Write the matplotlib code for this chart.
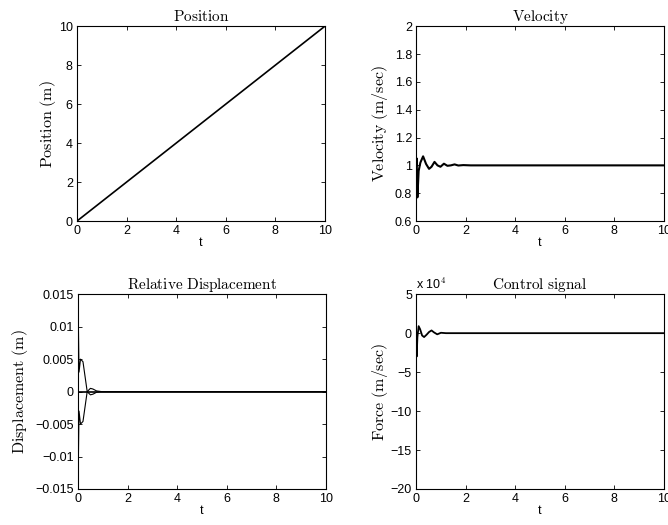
import matplotlib.pyplot as plt
import numpy as np

plt.rcParams['font.family'] = ['Liberation Sans', 'DejaVu Sans']
plt.rcParams['mathtext.fontset'] = 'cm'
plt.rcParams['font.size'] = 9

# position (m) vs time
t_pos = [0, 10]
pos = [0, 10]

# velocity (m/sec)
t_vel = [0, 0.02, 0.05, 0.1, 0.17, 0.28, 0.4, 0.52, 0.62, 0.74, 0.86, 0.98,
         1.12, 1.26, 1.4, 1.55, 1.7, 1.9, 2.2, 10]
vel = [1.0, 1.05, 0.77, 0.96, 1.02, 1.065, 1.01, 0.975, 0.99, 1.025, 1.0, 0.99,
       1.012, 0.997, 1.0, 1.007, 0.999, 1.002, 1.0, 1.0]

# relative displacement (m), two mirrored responses
t_disp = [0, 0.012, 0.04, 0.1, 0.2, 0.37, 0.5, 0.6, 0.75, 0.95, 10]
disp_a = [0, 0.011, 0.003, 0.005, 0.0046, 0.0, -0.0005, -0.0004, -0.0001, 0, 0]
disp_b = [0, -0.011, -0.003, -0.005, -0.0046, 0.0, 0.0005, 0.0004, 0.0001, 0, 0]

# control force, in units of 1e4
t_ctl = [0, 0.02, 0.05, 0.1, 0.16, 0.24, 0.32, 0.42, 0.52, 0.62, 0.72, 0.85,
         1.0, 1.2, 1.5, 10]
ctl = [0, -3.0, -0.5, 0.9, 0.5, -0.3, -0.5, -0.2, 0.15, 0.35, 0.1, -0.15,
       0.05, 0.0, 0.0, 0.0]

fig = plt.figure(figsize=(6.68, 5.25), dpi=100)
W, H = 0.371, 0.371
ax1 = fig.add_axes([0.1153, 0.579, W, H])
ax2 = fig.add_axes([0.623, 0.579, W, H])
ax3 = fig.add_axes([0.1168, 0.0686, W, H])
ax4 = fig.add_axes([0.623, 0.0686, W, H])


def style(ax, title, ylabel, ylab_x):
    ax.set_title(r'$\mathrm{' + title.replace(' ', r'\ ') + '}$', fontsize=11, pad=4)
    ax.set_ylabel(r'$\mathrm{' + ylabel.replace(' ', r'\ ') + '}$', fontsize=11.5)
    ax.yaxis.label.set_va('center')
    ax.yaxis.set_label_coords(ylab_x, 0.5)
    ax.set_xlabel('t', labelpad=0)
    ax.set_xlim(0, 10)
    ax.set_xticks([0, 2, 4, 6, 8, 10])
    ax.tick_params(direction='in', top=True, right=True, length=3, width=0.6, pad=3)
    for s in ax.spines.values():
        s.set_linewidth(0.8)


ax1.plot(t_pos, pos, color='k', lw=1.2)
ax1.set_ylim(0, 10)
ax1.set_yticks([0, 2, 4, 6, 8, 10])
style(ax1, 'Position', 'Position (m)', -0.117)

ax2.plot(t_vel, vel, color='k', lw=1.5)
ax2.set_ylim(0.6, 2)
ax2.set_yticks([0.6, 0.8, 1, 1.2, 1.4, 1.6, 1.8, 2])
ax2.set_yticklabels(['0.6', '0.8', '1', '1.2', '1.4', '1.6', '1.8', '2'])
style(ax2, 'Velocity', 'Velocity (m/sec)', -0.145)

ax3.plot(t_disp, disp_a, color='k', lw=0.8)
ax3.plot(t_disp, disp_b, color='k', lw=0.8)
ax3.axhline(0, color='k', lw=1.2)
ax3.set_ylim(-0.015, 0.015)
ax3.set_yticks([-0.015, -0.01, -0.005, 0, 0.005, 0.01, 0.015])
ax3.set_yticklabels(['\u22120.015', '\u22120.01', '\u22120.005', '0', '0.005', '0.01', '0.015'])
style(ax3, 'Relative Displacement', 'Displacement (m)', -0.234)

ax4.plot(t_ctl, ctl, color='k', lw=1.3)
ax4.set_ylim(-20, 5)
ax4.set_yticks([-20, -15, -10, -5, 0, 5])
ax4.set_yticklabels(['\u221220', '\u221215', '\u221210', '\u22125', '0', '5'])
ax4.text(0.0, 1.01, r'x 10$^4$', transform=ax4.transAxes, fontsize=9,
         ha='left', va='bottom', family='Liberation Sans')
style(ax4, 'Control signal', 'Force (m/sec)', -0.145)

fig.savefig('out.png', dpi=100)
